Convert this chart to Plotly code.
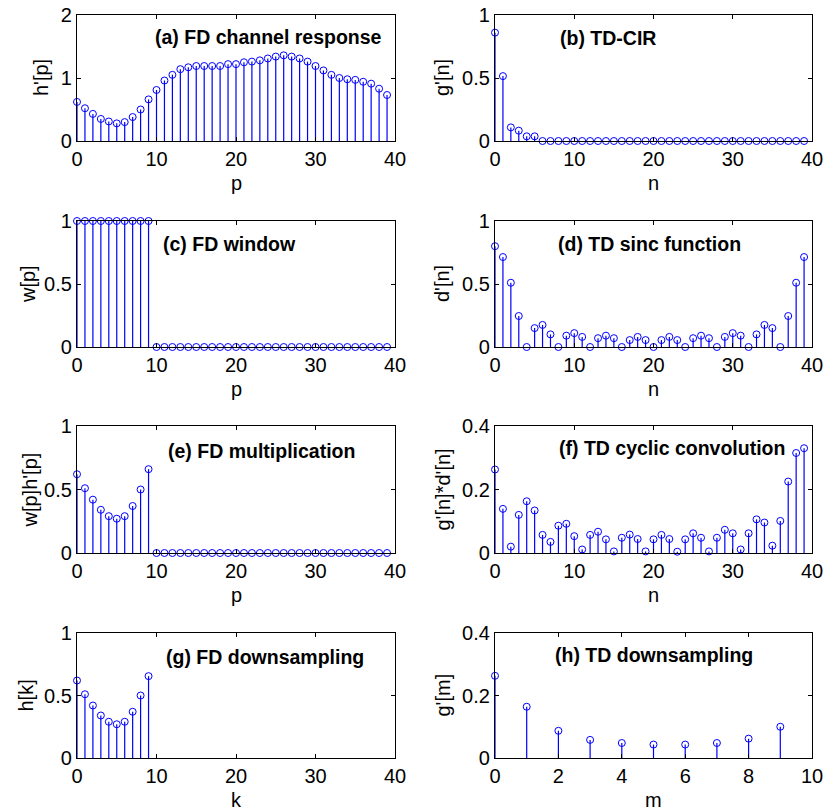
import plotly.graph_objects as go

# ---------------- data ----------------
p = list(range(40))
m = list(range(10))

h_fd = [0.62, 0.52, 0.43, 0.35, 0.31, 0.28, 0.30, 0.38, 0.50, 0.66,
        0.81, 0.96, 1.05, 1.14, 1.17, 1.19, 1.19, 1.19, 1.19, 1.22,
        1.22, 1.25, 1.26, 1.28, 1.31, 1.34, 1.36, 1.34, 1.31, 1.26,
        1.19, 1.12, 1.05, 1.00, 0.98, 0.97, 0.94, 0.91, 0.83, 0.73]

g_td = [0.86, 0.515, 0.108, 0.082, 0.037, 0.037] + [0.0] * 34

w_fd = [1.0] * 10 + [0.0] * 30

d_td = [0.80, 0.714, 0.51, 0.246, 0.0, 0.15, 0.175, 0.10, 0.0, 0.09,
        0.11, 0.08, 0.0, 0.07, 0.09, 0.07, 0.0, 0.055, 0.08, 0.055,
        0.0, 0.055, 0.08, 0.055, 0.0, 0.07, 0.09, 0.07, 0.0, 0.08,
        0.11, 0.09, 0.0, 0.10, 0.175, 0.15, 0.0, 0.246, 0.51, 0.714]

wh_fd = [0.62, 0.51, 0.42, 0.34, 0.29, 0.27, 0.29, 0.37, 0.50, 0.66] + [0.0] * 30

gd_conv = [0.263, 0.139, 0.020, 0.120, 0.163, 0.134, 0.057, 0.035, 0.086, 0.092,
           0.053, 0.011, 0.057, 0.067, 0.043, 0.005, 0.048, 0.058, 0.044, 0.005,
           0.043, 0.057, 0.044, 0.004, 0.043, 0.062, 0.048, 0.005, 0.048, 0.073,
           0.062, 0.011, 0.062, 0.106, 0.096, 0.023, 0.101, 0.225, 0.315, 0.330]

h_ds = [0.62, 0.51, 0.42, 0.34, 0.29, 0.27, 0.29, 0.37, 0.50, 0.655]

g_ds = [0.263, 0.164, 0.087, 0.058, 0.048, 0.043, 0.043, 0.048, 0.062, 0.100]

panels = [
    # x, y, xlabel, ylabel, title, xmax, xdtick, ymax, ydtick, title_x, title_y, ylabel_px
    (p, h_fd, "p", "h'[p]", "(a) FD channel response", 40, 10, 2, 1, 24.1, 1.65, 41),
    (p, g_td, "n", "g'[n]", "(b) TD-CIR", 40, 10, 1, 0.5, 14.3, 0.82, 442),
    (p, w_fd, "p", "w[p]", "(c) FD window", 40, 10, 1, 0.5, 19.2, 0.82, 28),
    (p, d_td, "n", "d'[n]", "(d) TD sinc function", 40, 10, 1, 0.5, 19.5, 0.82, 442),
    (p, wh_fd, "p", "w[p]h'[p]", "(e) FD multiplication", 40, 10, 1, 0.5, 23.2, 0.80, 29),
    (p, gd_conv, "n", "g'[n]*d'[n]", "(f) TD cyclic convolution", 40, 10, 0.4, 0.2, 22.3, 0.33, 442),
    (m, h_ds, "k", "h[k]", "(g) FD downsampling", 40, 10, 1, 0.5, 23.6, 0.81, 25),
    (m, g_ds, "m", "g'[m]", "(h) TD downsampling", 10, 2, 0.4, 0.2, 5.03, 0.33, 442),
]

W, H = 825, 812
col_px = [(77, 395), (495, 812)]
row_px = [(15, 141), (221, 347), (426, 553), (633, 758)]

FONT = "Arial, Liberation Sans, sans-serif"
BLUE = "#0000ff"

fig = go.Figure()
layout = dict(
    width=W, height=H,
    margin=dict(l=0, r=0, t=0, b=0),
    paper_bgcolor="white", plot_bgcolor="white",
    showlegend=False,
    font=dict(family=FONT, size=20, color="black"),
)
annotations = []

for i, (xs, ys, xl, yl, ttl, xmax, xdt, ymax, ydt, tx, ty, ylx) in enumerate(panels):
    r, c = divmod(i, 2)
    k = i + 1
    xa = "x" if k == 1 else f"x{k}"
    ya = "y" if k == 1 else f"y{k}"
    x0, x1 = col_px[c]
    yt, yb = row_px[r]
    fig.add_trace(go.Scatter(
        x=xs, y=ys, mode="markers", xaxis=xa, yaxis=ya,
        cliponaxis=False,
        marker=dict(symbol="circle-open", size=7, color=BLUE, line=dict(width=1, color=BLUE)),
        error_y=dict(type="data", symmetric=False, array=[0] * len(ys), arrayminus=ys,
                     width=0, thickness=1.2, color=BLUE),
        hoverinfo="x+y",
    ))
    common = dict(showline=True, linecolor="black", linewidth=1.3, mirror="allticks",
                  ticks="inside", ticklen=4, tickcolor="black", showgrid=False, zeroline=False,
                  automargin=False,
                  tickfont=dict(family=FONT, size=20, color="black"))
    layout["xaxis" if k == 1 else f"xaxis{k}"] = dict(
        domain=[x0 / W, x1 / W], range=[0, xmax], tick0=0, dtick=xdt,
        anchor=ya, **common)
    layout["yaxis" if k == 1 else f"yaxis{k}"] = dict(
        domain=[1 - yb / H, 1 - yt / H], range=[0, ymax], tick0=0, dtick=ydt,
        anchor=xa, **common)
    # panel title
    annotations.append(dict(
        x=tx, y=ty, xref=xa, yref=ya, text=f"<b>{ttl}</b>", showarrow=False,
        xanchor="center", yanchor="middle", font=dict(family=FONT, size=19.5, color="black")))
    # x label
    annotations.append(dict(
        x=(x0 + x1) / 2 / W, y=1 - (yb + 42) / H, xref="paper", yref="paper",
        text=xl, showarrow=False, xanchor="center", yanchor="middle",
        font=dict(family=FONT, size=20, color="black")))
    # y label
    annotations.append(dict(
        x=ylx / W, y=1 - (yt + yb) / 2 / H, xref="paper", yref="paper",
        text=yl, textangle=-90, showarrow=False, xanchor="center", yanchor="middle",
        font=dict(family=FONT, size=20, color="black")))

layout["annotations"] = annotations
fig.update_layout(**layout)
fig.write_html(
    "out.html",
    config={"displayModeBar": False},
    post_script="document.body.style.margin='0';document.body.style.overflow='hidden';",
)
